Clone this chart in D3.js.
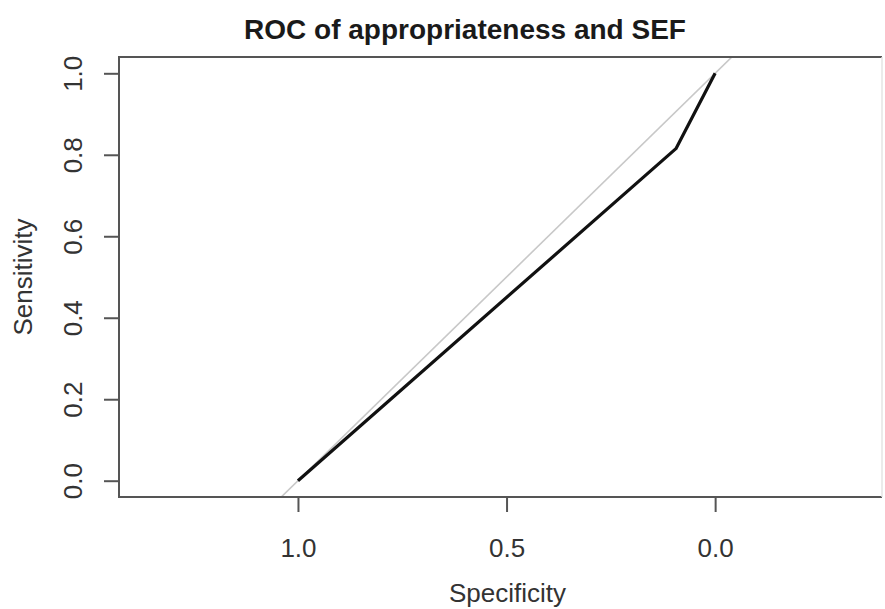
<!DOCTYPE html>
<html>
<head>
<meta charset="utf-8">
<script src="https://cdn.jsdelivr.net/npm/d3@7"></script>
<style>
	body { margin: 0; background: #fff; }
	text { font-family: "Liberation Sans", Arial, sans-serif; }
</style>
</head>
<body>
<div class="content"></div>
<script>
const w = 885;
const h = 609;

// ROC curve points
const specificity = [1.0, 0.094, 0.0];
const sensitivity = [0.0, 0.815, 1.0];

// reference diagonal (sens = 1 - spec), clipped to the plot box
const diagSpec = [1.6, -0.6];
const diagSens = [-0.6, 1.6];

const xTicks = [1.0, 0.5, 0.0];
const yTicks = [0.0, 0.2, 0.4, 0.6, 0.8, 1.0];

const box = { left: 119, right: 882, top: 57, bottom: 497 };

const svg = d3.select('.content').append('svg')
	.attr('width', w)
	.attr('height', h);

const xScale = d3.scaleLinear()
	.domain([1.429, -0.400])
	.range([box.left, box.right]);

const yScale = d3.scaleLinear()
	.domain([-0.04, 1.04])
	.range([box.bottom, box.top]);

svg.append('clipPath')
	.attr('id', 'plot-clip')
	.append('rect')
	.attr('x', box.left)
	.attr('y', box.top)
	.attr('width', box.right - box.left)
	.attr('height', box.bottom - box.top);

const line = d3.line()
	.x((d) => xScale(d[0]))
	.y((d) => yScale(d[1]));

svg.append('path')
	.datum(diagSpec.map((s, i) => [s, diagSens[i]]))
	.attr('clip-path', 'url(#plot-clip)')
	.attr('d', line)
	.attr('fill', 'none')
	.attr('stroke', '#c8c8c8')
	.attr('stroke-width', 1.6);

svg.append('path')
	.datum(specificity.map((s, i) => [s, sensitivity[i]]))
	.attr('d', line)
	.attr('fill', 'none')
	.attr('stroke', '#111')
	.attr('stroke-width', 3.2)
	.attr('stroke-linejoin', 'round');

// box: left, top, bottom dark; right edge barely visible in the reference
svg.append('path')
	.attr('d', `M${box.right},${box.top}H${box.left}V${box.bottom}H${box.right}`)
	.attr('fill', 'none')
	.attr('stroke', '#555')
	.attr('stroke-width', 2);

svg.append('line')
	.attr('x1', box.right).attr('x2', box.right)
	.attr('y1', box.top).attr('y2', box.bottom)
	.attr('stroke', '#e4e4e4')
	.attr('stroke-width', 1.5);

const xAxis = d3.axisBottom(xScale)
	.tickValues(xTicks)
	.tickSize(15)
	.tickFormat(d3.format('.1f'));

const yAxis = d3.axisLeft(yScale)
	.tickValues(yTicks)
	.tickSize(15)
	.tickFormat(d3.format('.1f'));

const gx = svg.append('g')
	.attr('transform', 'translate(0,' + box.bottom + ')')
	.call(xAxis);

const gy = svg.append('g')
	.attr('transform', 'translate(' + box.left + ',0)')
	.call(yAxis);

[gx, gy].forEach((g) => {
	g.select('.domain').remove();
	g.selectAll('.tick line').attr('stroke', '#555').attr('stroke-width', 2);
	g.selectAll('.tick text')
		.attr('fill', '#333')
		.style('font-size', '26px')
		.style('font-family', '"Liberation Sans", Arial, sans-serif');
});

gx.selectAll('.tick text')
	.attr('y', 0)
	.attr('dy', 0)
	.attr('transform', 'translate(0,60)');

gy.selectAll('.tick text')
	.attr('x', 0)
	.attr('dy', 0)
	.attr('text-anchor', 'middle')
	.attr('transform', 'translate(-37,0) rotate(-90)');

svg.append('text')
	.attr('x', 465)
	.attr('y', 39)
	.attr('text-anchor', 'middle')
	.attr('fill', '#1a1a1a')
	.style('font-size', '28px')
	.style('font-weight', 'bold')
	.text('ROC of appropriateness and SEF');

svg.append('text')
	.attr('x', (xScale(xTicks[0]) + xScale(xTicks[2])) / 2 + 1)
	.attr('y', 602)
	.attr('text-anchor', 'middle')
	.attr('fill', '#333')
	.style('font-size', '26px')
	.text('Specificity');

svg.append('text')
	.attr('transform', 'translate(32,' + yScale(0.5) + ') rotate(-90)')
	.attr('text-anchor', 'middle')
	.attr('fill', '#333')
	.style('font-size', '26px')
	.text('Sensitivity');
</script>
</body>
</html>
